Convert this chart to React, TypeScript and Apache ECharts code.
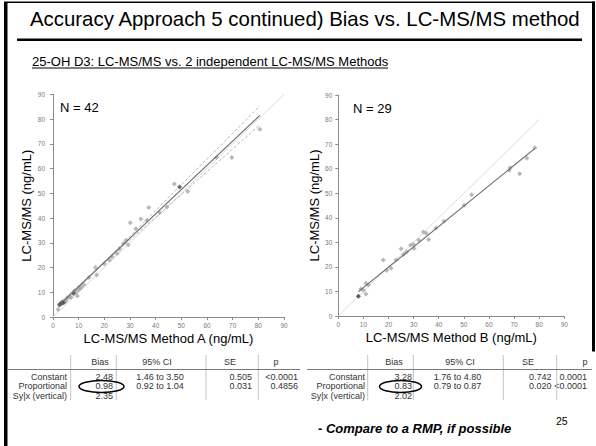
import React, { useEffect, useRef } from "react";
import * as echarts from "echarts";

const FONT = "'Liberation Sans', Arial, Helvetica, sans-serif";

// ---------- data ----------
const pointsA: [number, number][] = [
  [2, 3], [4.5, 6], [5, 6.5], [5.5, 7.5], [6.5, 8], [7, 8], [8.3, 10.5], [9, 10],
  [9.5, 8.5], [10, 11], [10.5, 11.5], [11, 12], [12, 13], [14, 16], [16.5, 20],
  [17, 17], [20, 21.5], [22, 23], [23, 24.3], [25, 25.7], [26, 27.5], [27.5, 29.7],
  [29.3, 29.2], [28.5, 31], [30.1, 38.1], [32.3, 35.7], [34.2, 39.6], [36.6, 39.1],
  [37.3, 44.3], [41.5, 42.1], [44.4, 44.5], [47.3, 53.7], [52.5, 50.7], [63.7, 64.5],
  [69.7, 64.5], [80.6, 75.9],
];
const darkPointsA: [number, number][] = [
  [2.5, 5], [3, 5.3], [3.5, 6], [4, 5.8], [8, 9.5], [49.3, 52.5],
];
const pointsB: [number, number][] = [
  [9, 11], [10, 10.5], [11, 9], [11, 13.3], [12, 12.6], [17.9, 22.8], [19.3, 18.5],
  [21, 19.4], [23, 22.8], [25, 27.4], [26, 25], [27.2, 26.1], [28.8, 28.9], [29.9, 29.2],
  [30.2, 27.5], [32, 31], [33.9, 34.2], [35, 33.7], [36, 31.2], [38.9, 35.8], [42.1, 38.6],
  [50.1, 45.1], [53.1, 49.4], [68.1, 59.4], [68.4, 60.4], [72.2, 57.9], [75.1, 64.2],
  [78.3, 68.5],
];
const darkPointsB: [number, number][] = [[8, 8]];

// regression (Passing-Bablok) coefficients: [intercept, slope]
const fitA = [2.48, 0.98];
const fitB = [3.28, 0.83];
const ciInterceptA = [1.46, 3.5];
const ciSlopeA = [0.92, 1.04];
const fitRangeA = [2, 80.6];
const fitRangeB = [8, 78.3];
const identityRangeA = [0, 90];
const identityRangeB = [0, 80];

const tableHeaders = ["Bias", "95% CI", "SE", "p"];
const rowLabels = ["Constant", "Proportional", "Sy|x (vertical)"];
const biasA = ["2.48", "0.98", "2.35"];
const ciA = ["1.46 to 3.50", "0.92 to 1.04", ""];
const seA = ["0.505", "0.031", ""];
const pA = ["<0.0001", "0.4856", ""];
const biasB = ["3.28", "0.83", "2.02"];
const ciB = ["1.76 to 4.80", "0.79 to 0.87", ""];
const seB = ["0.742", "0.020", ""];
const pB = ["0.0001", "<0.0001", ""];

const titleText = "Accuracy Approach 5 continued) Bias vs. LC-MS/MS method";
const subtitleText = "25-OH D3: LC-MS/MS vs. 2 independent LC-MS/MS Methods";
const nA = "N = 42";
const nB = "N = 29";
const footnote = "- Compare to a RMP, if possible";
const pageNo = "25";

// ---------- helpers ----------
const lineFrom = (b0: number, b1: number, r: number[]) =>
  r.map((x) => [x, b0 + b1 * x]);

function txt(text: string, x: number, y: number, opts: any = {}) {
  return {
    type: "text",
    x,
    y,
    silent: true,
    style: {
      text,
      fontFamily: FONT,
      fontSize: opts.size ?? 9,
      fontWeight: opts.weight ?? "normal",
      fontStyle: opts.style ?? "normal",
      fill: opts.color ?? "#333",
      align: opts.align ?? "left",
      verticalAlign: "middle",
    },
  };
}
function ln(x1: number, y1: number, x2: number, y2: number, color: string, w = 1) {
  return {
    type: "line",
    silent: true,
    shape: { x1, y1, x2, y2 },
    style: { stroke: color, lineWidth: w },
  };
}

function table(cfg: any, bias: string[], ci: string[], se: string[], p: string[]) {
  const els: any[] = [];
  const hy = 362;
  const rows = [376.5, 386, 395.5];
  tableHeaders.forEach((h, i) => els.push(txt(h, cfg.h[i], hy, { align: "center" })));
  rowLabels.forEach((l, i) => {
    els.push(txt(l, cfg.label, rows[i], { align: "right" }));
    if (bias[i]) els.push(txt(bias[i], cfg.bias, rows[i], { align: "right" }));
    if (ci[i]) els.push(txt(ci[i], cfg.ci, rows[i], { align: "center" }));
    if (se[i]) els.push(txt(se[i], cfg.se, rows[i], { align: "right" }));
    if (p[i]) els.push(txt(p[i], cfg.p, rows[i], { align: "right" }));
  });
  cfg.v.forEach((vx: number) => els.push(ln(vx, 355, vx, 400, "#c4c4c4", 1)));
  els.push(ln(cfg.hl[0], 369.5, cfg.hl[1], 369.5, "#7a7a7a", 1));
  return els;
}

export default function App() {
  const ref = useRef<HTMLDivElement>(null);
  useEffect(() => {
    if (!ref.current) return;
    const chart = echarts.init(ref.current, undefined, { renderer: "svg" });

    const axisBase = (gridIndex: number) => ({
      type: "value",
      gridIndex,
      min: 0,
      max: 90,
      interval: 10,
      axisLine: { show: true, lineStyle: { color: "#8c8c8c", width: 1 } },
      axisTick: { show: true, length: 3, lineStyle: { color: "#8c8c8c" } },
      axisLabel: { fontSize: 6.5, color: "#7a7a7a", fontFamily: FONT },
      splitLine: { show: false },
      nameLocation: "middle",
      nameTextStyle: { fontSize: 13, color: "#000", fontFamily: FONT },
    });

    const scatter = (data: any, xi: number, color: string) => ({
      type: "scatter",
      xAxisIndex: xi,
      yAxisIndex: xi,
      data,
      symbol: "diamond",
      symbolSize: 5,
      itemStyle: { color },
      silent: true,
      z: 3,
    });
    const line = (data: any, xi: number, color: string, w: number, type: any = "solid", z = 2) => ({
      type: "line",
      xAxisIndex: xi,
      yAxisIndex: xi,
      data,
      showSymbol: false,
      symbol: "none",
      lineStyle: { color, width: w, type },
      silent: true,
      z,
    });

    const graphics: any[] = [
      { type: "rect", shape: { x: 0, y: 0, width: 596, height: 446 }, style: { fill: "#fff" }, z: -10, silent: true },
      { type: "rect", shape: { x: 4, y: 2, width: 3.5, height: 444 }, style: { fill: "#000" }, silent: true },
      { type: "rect", shape: { x: 4, y: 1.5, width: 591, height: 1.5 }, style: { fill: "#000" }, silent: true },
      { type: "rect", shape: { x: 592, y: 1.5, width: 3, height: 350 }, style: { fill: "#000" }, silent: true },
      txt(titleText, 30, 19, { size: 20.4, color: "#000" }),
      { type: "rect", shape: { x: 17, y: 38.5, width: 565, height: 2.5 }, style: { fill: "#000" }, silent: true },
      txt(subtitleText, 32, 61, { size: 13, color: "#000" }),
      ln(32, 68, 388, 68, "#000", 1),
      txt(nA, 60, 107, { size: 13, color: "#000" }),
      txt(nB, 353, 108, { size: 13, color: "#000" }),
      ...table(
        { h: [100, 157, 230, 276], label: 67, bias: 113, ci: 160, se: 252, p: 298, v: [70.7, 116.3, 206, 258.3], hl: [7, 300] },
        biasA, ciA, seA, pA
      ),
      ...table(
        { h: [394, 460, 528, 585], label: 365, bias: 412, ci: 457.5, se: 551.5, p: 587, v: [367.7, 413.3, 503.3, 556.7], hl: [307, 592] },
        biasB, ciB, seB, pB
      ),
      { type: "ellipse", silent: true, shape: { cx: 101.5, cy: 386.5, rx: 22.5, ry: 6 }, style: { fill: "none", stroke: "#000", lineWidth: 1.5 } },
      { type: "ellipse", silent: true, shape: { cx: 400.5, cy: 386.5, rx: 21, ry: 6 }, style: { fill: "none", stroke: "#000", lineWidth: 1.5 } },
      txt(footnote, 318, 428.5, { size: 13, weight: "bold", style: "italic", color: "#000" }),
      txt(pageNo, 556, 421, { size: 10.5, color: "#000" }),
    ];

    chart.setOption({
      animation: false,
      backgroundColor: "#fff",
      grid: [
        { left: 53, top: 94.3, width: 231, height: 222.7 },
        { left: 338.3, top: 95, width: 226, height: 221 },
      ],
      xAxis: [
        { ...axisBase(0), name: "LC-MS/MS Method A (ng/mL)", nameGap: 15, axisLabel: { ...axisBase(0).axisLabel, margin: 5 } },
        { ...axisBase(1), name: "LC-MS/MS Method B (ng/mL)", nameGap: 15, axisLabel: { ...axisBase(1).axisLabel, margin: 5 } },
      ],
      yAxis: [
        { ...axisBase(0), name: "LC-MS/MS (ng/mL)", nameGap: 20, axisLabel: { ...axisBase(0).axisLabel, margin: 8 } },
        { ...axisBase(1), name: "LC-MS/MS (ng/mL)", nameGap: 14, axisLabel: { ...axisBase(1).axisLabel, margin: 6 } },
      ],
      series: [
        line(lineFrom(0, 1, identityRangeA), 0, "#dcdcdc", 1, "solid", 1),
        line(lineFrom(ciInterceptA[0], ciSlopeA[1], fitRangeA), 0, "#b0b0b0", 0.9, [3, 2], 2),
        line(lineFrom(ciInterceptA[1], ciSlopeA[0], fitRangeA), 0, "#b0b0b0", 0.9, [3, 2], 2),
        line(lineFrom(fitA[0], fitA[1], fitRangeA), 0, "#6a6a6a", 1.1, "solid", 4),
        scatter(pointsA, 0, "#a8a8a8"),
        scatter(darkPointsA, 0, "#4a4a4a"),
        line(lineFrom(0, 1, identityRangeB), 1, "#dcdcdc", 1, "solid", 1),
        line(lineFrom(fitB[0], fitB[1], fitRangeB), 1, "#6a6a6a", 1.1, "solid", 4),
        scatter(pointsB, 1, "#a8a8a8"),
        scatter(darkPointsB, 1, "#333"),
      ],
      graphic: graphics,
    });
    return () => chart.dispose();
  }, []);

  return (
    <div
      ref={ref}
      style={{ position: "fixed", left: 0, top: 0, width: 596, height: 446, background: "#fff" }}
    />
  );
}
